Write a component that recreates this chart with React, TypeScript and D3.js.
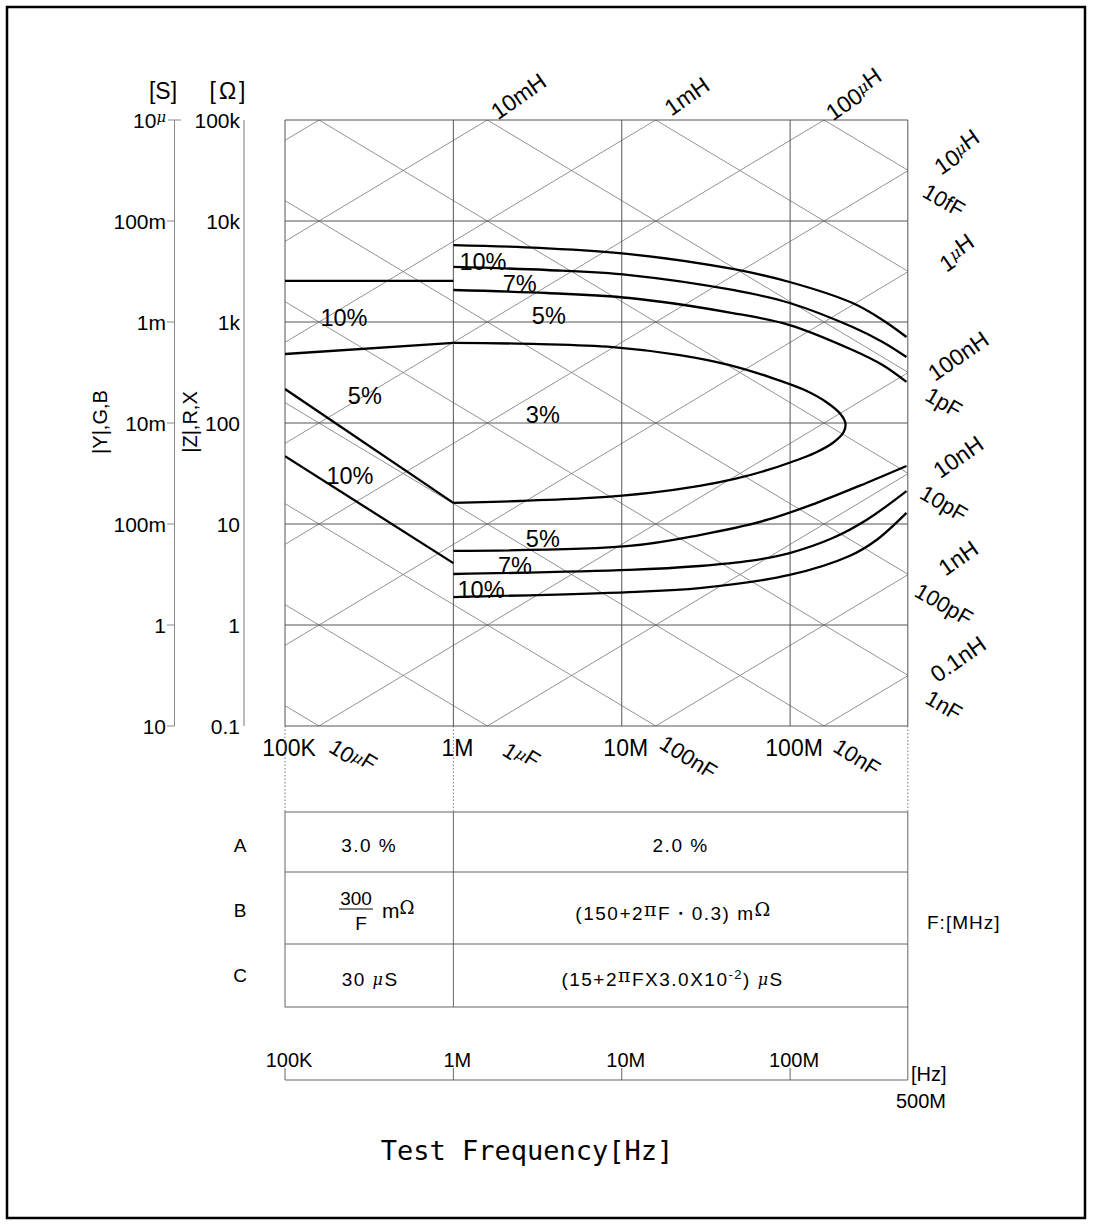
import React from "react";
import * as d3 from "d3";

const W = 1093;
const H = 1226;

// ---- axis data ----
const freqDomain = [1e5, 5e8];
const freqGrid = [1e5, 1e6, 1e7, 1e8, 5e8];
const freqTicks = [1e5, 1e6, 1e7, 1e8];
const freqTickLabels = ["100K", "1M", "10M", "100M"];
const zDomain = [0.1, 1e5];
const zTicks = [1e5, 1e4, 1e3, 1e2, 1e1, 1, 0.1];
const zTickLabels = ["100k", "10k", "1k", "100", "10", "1", "0.1"];
const sTickLabels = ["10μ", "100m", "1m", "10m", "100m", "1", "10"];

// ---- reactance grid (H and F decades) ----
const inductances = [1e-11, 1e-10, 1e-9, 1e-8, 1e-7, 1e-6, 1e-5, 1e-4, 1e-3, 1e-2, 1e-1, 1];
const capacitances = [1e-15, 1e-14, 1e-13, 1e-12, 1e-11, 1e-10, 1e-9, 1e-8, 1e-7, 1e-6, 1e-5, 1e-4];

const topLLabels: [number, string, string][] = [
  [1e-2, "10m", "H"],
  [1e-3, "1m", "H"],
  [1e-4, "100μ", "H"],
];
const rightLLabels: [number, string, string][] = [
  [1e-5, "10μ", "H"],
  [1e-6, "1μ", "H"],
  [1e-7, "100n", "H"],
  [1e-8, "10n", "H"],
  [1e-9, "1n", "H"],
  [1e-10, "0.1n", "H"],
];
const rightCLabels: [number, string][] = [
  [1e-14, "10fF"],
  [1e-12, "1pF"],
  [1e-11, "10pF"],
  [1e-10, "100pF"],
  [1e-9, "1nF"],
];
const bottomCLabels: [number, string, string][] = [
  [1e-5, "10μ", "F"],
  [1e-6, "1μ", "F"],
  [1e-7, "100n", "F"],
  [1e-8, "10n", "F"],
];

// ---- accuracy contours [frequency Hz, impedance ohm] ----
const c10LeftTop = [[1e5, 2550], [1e6, 2550]];
const c5LeftTop = [[1e5, 482], [1e6, 620]];
const c5LeftBottom = [[1e5, 217], [1e6, 16.2]];
const c10LeftBottom = [[1e5, 47], [1e6, 4.1]];
const c3Loop = [
  [1e6, 620], [3.26e6, 605], [8.85e6, 565], [22.1e6, 471], [43.7e6, 375], [75.5e6, 285],
  [122e6, 212], [167e6, 158], [199e6, 123], [213e6, 100], [208e6, 81.5], [179e6, 63.4],
  [140e6, 50.5], [102e6, 41.1], [70.6e6, 33.5], [46.9e6, 27.9], [29e6, 23.8],
  [14.7e6, 20.3], [6.46e6, 18.1], [2.48e6, 16.9], [1e6, 16.2],
];
const c10UpperRight = [
  [1e6, 5780], [3.26e6, 5410], [11.1e6, 4710], [45.6e6, 3350], [99.3e6, 2490],
  [235e6, 1540], [354e6, 1047], [491e6, 710],
];
const c7UpperRight = [
  [1e6, 3508], [3.59e6, 3273], [11.1e6, 2917], [45.6e6, 2075], [99.3e6, 1542],
  [235e6, 891], [354e6, 634], [491e6, 450],
];
const c5UpperRight = [
  [1e6, 2075], [3.59e6, 1936], [11.1e6, 1729], [45.6e6, 1227], [99.3e6, 933],
  [235e6, 528], [354e6, 375], [491e6, 255],
];
const c5LowerRight = [
  [1e6, 5.41], [11.1e6, 6.06], [29e6, 7.78], [72.6e6, 10.96], [144e6, 16.2],
  [284e6, 25.5], [491e6, 37.5],
];
const c7LowerRight = [
  [1e6, 3.2], [11.1e6, 3.51], [29e6, 3.84], [57.5e6, 4.31], [99.3e6, 5.16],
  [179e6, 7.26], [284e6, 10.96], [491e6, 21.2],
];
const c10LowerRight = [
  [1e6, 1.89], [11.1e6, 2.12], [29e6, 2.32], [99.3e6, 3.13], [225e6, 4.82],
  [326e6, 6.95], [491e6, 12.9],
];
const contours = [
  c10LeftTop, c5LeftTop, c5LeftBottom, c10LeftBottom, c3Loop,
  c10UpperRight, c7UpperRight, c5UpperRight, c5LowerRight, c7LowerRight, c10LowerRight,
];

// percent labels: [text, frequency, impedance] (text centre)
const pctLabels: [string, number, number][] = [
  ["10%", 1.5e6, 4000],
  ["7%", 2.48e6, 2430],
  ["5%", 3.69e6, 1170],
  ["10%", 224e3, 1100],
  ["5%", 298e3, 189],
  ["3%", 3.4e6, 120],
  ["10%", 243e3, 30.5],
  ["5%", 3.4e6, 7.26],
  ["7%", 2.32e6, 3.84],
  ["10%", 1.46e6, 2.22],
];

// table
const rowNames = ["A", "B", "C"];
const rowA = ["3.0 %", "2.0 %"];

const SANS = "'Liberation Sans', Arial, sans-serif";
const SERIF = "'DejaVu Serif', 'Liberation Serif', serif";

export default function App() {
  const x = d3.scaleLog().domain(freqDomain).range([285, 907.8]);
  const y = d3.scaleLog().domain(zDomain).range([726, 120]);
  const [x0, x1] = x.range();
  const [yB, yT] = y.range();
  const fMin = freqDomain[0];
  const fMax = freqDomain[1];
  const zMin = zDomain[0];
  const zMax = zDomain[1];
  const TP = 2 * Math.PI;

  const line = d3
    .line<number[]>()
    .x((d) => x(d[0]))
    .y((d) => y(d[1]))
    .curve(d3.curveCatmullRom.alpha(0.5));
  const straight = d3
    .line<number[]>()
    .x((d) => x(d[0]))
    .y((d) => y(d[1]));

  const tableTop = 812;
  const rowH = [872, 944, 1007];
  const rowCy = [845, 910, 975];
  const colMid = x(1e6);
  const c1 = (x0 + colMid) / 2;
  const c2 = (colMid + x1) / 2;
  const axisY = 1080;

  const muSpan = (s: string) => {
    const i = s.indexOf("μ");
    if (i < 0) return s;
    return (
      <>
        {s.slice(0, i)}
        <tspan fontFamily={SERIF} fontStyle="italic" fontSize="0.7em" dy="-0.35em">μ</tspan>
        <tspan dy="0.35em">{s.slice(i + 1)}</tspan>
      </>
    );
  };

  return (
    <svg
      width={W}
      height={H}
      style={{ position: "absolute", left: 0, top: 0, background: "#fff" }}
      fontFamily={SANS}
    >
      <defs>
        <clipPath id="plotClip">
          <rect x={x0} y={yT} width={x1 - x0} height={yB - yT} />
        </clipPath>
      </defs>
      <rect x={0} y={0} width={W} height={H} fill="#fff" />
      <rect x={7} y={7} width={1078} height={1211} fill="none" stroke="#000" strokeWidth={2.5} />

      {/* diagonal reactance lines */}
      <g clipPath="url(#plotClip)" stroke="#777" strokeWidth={0.8} fill="none">
        {inductances.map((L) => (
          <path key={"L" + L} d={straight([[fMin / 10, TP * (fMin / 10) * L], [fMax * 10, TP * fMax * 10 * L]]) || ""} />
        ))}
        {capacitances.map((C) => (
          <path key={"C" + C} d={straight([[fMin / 10, 1 / (TP * (fMin / 10) * C)], [fMax * 10, 1 / (TP * fMax * 10 * C)]]) || ""} />
        ))}
      </g>

      {/* grid */}
      <g stroke="#555" strokeWidth={1}>
        {freqGrid.map((f) => (
          <line key={"v" + f} x1={x(f)} x2={x(f)} y1={yT} y2={yB} />
        ))}
        {zTicks.map((z) => (
          <line key={"h" + z} x1={x0} x2={x1} y1={y(z)} y2={y(z)} />
        ))}
      </g>

      {/* contours */}
      <g clipPath="url(#plotClip)" stroke="#000" strokeWidth={2.3} fill="none">
        {contours.map((c, i) => (
          <path key={i} d={line(c) || ""} />
        ))}
      </g>

      {/* percent labels */}
      <g fontSize={23.5} textAnchor="middle" fill="#000">
        {pctLabels.map(([t, f, z], i) => (
          <text key={i} x={x(f)} y={y(z)} dy="0.36em">{t}</text>
        ))}
      </g>

      {/* reactance labels */}
      <g fontSize={23} textAnchor="middle">
        {topLLabels.map(([L, a, b]) => {
          const cx = x(zMax / (TP * L)) + 31;
          const cy = yT - 24;
          return (
            <text key={a} transform={`translate(${cx},${cy}) rotate(-35)`} dy="0.36em">
              {muSpan(a)}{b}
            </text>
          );
        })}
        {rightLLabels.map(([L, a, b]) => {
          const cy = y(TP * fMax * L) - 17;
          return (
            <text key={a} transform={`translate(958,${cy}) rotate(-35)`} dy="0.36em">
              {muSpan(a)}{b}
            </text>
          );
        })}
      </g>
      <g fontSize={22} textAnchor="middle">
        {rightCLabels.map(([C, t]) => {
          const cy = y(1 / (TP * fMax * C)) + 30;
          return (
            <text key={t} transform={`translate(944,${cy}) rotate(30)`} dy="0.36em">
              {t}
            </text>
          );
        })}
        {bottomCLabels.map(([C, a, b]) => {
          const cx = x(1 / (TP * C * zMin)) + 33;
          return (
            <text key={a} transform={`translate(${cx},757) rotate(32)`} dy="0.36em">
              {muSpan(a)}{b}
            </text>
          );
        })}
      </g>

      {/* x tick labels under plot */}
      <g fontSize={23} textAnchor="middle">
        {freqTicks.map((f, i) => (
          <text key={f} x={x(f) + 4} y={yB + 30}>{freqTickLabels[i]}</text>
        ))}
      </g>

      {/* left axes */}
      <line x1={174.5} x2={174.5} y1={yT} y2={yB} stroke="#888" strokeWidth={1} />
      <line x1={244} x2={244} y1={yT} y2={yB} stroke="#aaa" strokeWidth={1.6} />
      <g stroke="#888" strokeWidth={1}>
        {zTicks.map((z, i) => (
          <line key={z} x1={i === 0 ? 168 : 167} x2={i === 0 ? 181 : 174.5} y1={y(z)} y2={y(z)} />
        ))}
      </g>
      <g fontSize={21} textAnchor="end">
        {zTicks.map((z, i) => (
          <text key={"s" + z} x={166} y={y(z)} dy="0.36em">{muSpan(sTickLabels[i])}</text>
        ))}
        {zTicks.map((z, i) => (
          <text key={"z" + z} x={240} y={y(z)} dy="0.36em">{zTickLabels[i]}</text>
        ))}
      </g>
      <text x={163} y={99} fontSize={23} textAnchor="middle">[S]</text>
      <text x={229} y={99} fontSize={23} textAnchor="middle" letterSpacing={3}>[Ω]</text>
      <text transform="translate(107,422) rotate(-90)" fontSize={20} textAnchor="middle">|Y|,G,B</text>
      <text transform="translate(197,422) rotate(-90)" fontSize={20} textAnchor="middle">|Z|,R,X</text>

      {/* dotted connectors */}
      <g stroke="#777" strokeWidth={1} strokeDasharray="1.5,2">
        {[fMin, 1e6, fMax].map((f) => (
          <line key={f} x1={x(f)} x2={x(f)} y1={yB} y2={tableTop} />
        ))}
      </g>

      {/* table */}
      <g stroke="#666" strokeWidth={1} fill="none">
        <rect x={x0} y={tableTop} width={x1 - x0} height={rowH[2] - tableTop} />
        <line x1={x0} x2={x1} y1={rowH[0]} y2={rowH[0]} />
        <line x1={x0} x2={x1} y1={rowH[1]} y2={rowH[1]} />
        <line x1={colMid} x2={colMid} y1={tableTop} y2={rowH[2]} />
        <line x1={x1} x2={x1} y1={rowH[2]} y2={axisY} />
      </g>
      <g fontSize={19} textAnchor="middle" letterSpacing={1.5}>
        {rowNames.map((r, i) => (
          <text key={r} x={240} y={rowCy[i]} dy="0.36em" letterSpacing={0}>{r}</text>
        ))}
        <text x={c1} y={845} dy="0.36em">{rowA[0]}</text>
        <text x={c2} y={845} dy="0.36em">{rowA[1]}</text>
        {/* row B */}
        <text x={356} y={905} letterSpacing={0}>300</text>
        <line x1={339} x2={373} y1={909} y2={909} stroke="#000" strokeWidth={1} />
        <text x={361} y={930} letterSpacing={0}>F</text>
        <text x={382} y={918} textAnchor="start" fontSize={21} letterSpacing={0}>
          m<tspan fontFamily={SERIF} fontSize={18} dy="-4">Ω</tspan>
        </text>
        <text x={c2 - 7} y={920}>
          (150+2<tspan fontFamily={SERIF} dy="-4">π</tspan>
          <tspan dy="4">F・0.3) m</tspan>
          <tspan fontFamily={SERIF} dy="-4">Ω</tspan>
        </text>
        {/* row C */}
        <text x={c1 + 1} y={986}>
          30 <tspan fontFamily={SERIF} fontStyle="italic" fontSize={16} dy="-1">μ</tspan>
          <tspan dy="1">S</tspan>
        </text>
        <text x={c2 - 8} y={986}>
          (15+2<tspan fontFamily={SERIF} dy="-4">π</tspan>
          <tspan dy="4">FX3.0X10</tspan>
          <tspan fontSize={13} dy="-7">-2</tspan>
          <tspan dy="7">) </tspan>
          <tspan fontFamily={SERIF} fontStyle="italic" fontSize={16} dy="-1">μ</tspan>
          <tspan dy="1">S</tspan>
        </text>
      </g>
      <text x={927} y={929} fontSize={19} letterSpacing={1}>F:[MHz]</text>

      {/* bottom frequency axis */}
      <line x1={x0} x2={x1} y1={axisY} y2={axisY} stroke="#666" strokeWidth={1} />
      <g stroke="#666" strokeWidth={1}>
        {freqTicks.map((f) => (
          <line key={f} x1={x(f)} x2={x(f)} y1={axisY - 12} y2={axisY} />
        ))}
      </g>
      <g fontSize={20} textAnchor="middle">
        {freqTicks.map((f, i) => (
          <text key={f} x={x(f) + 4} y={axisY - 13}>{freqTickLabels[i]}</text>
        ))}
      </g>
      <text x={911} y={1081} fontSize={20}>[Hz]</text>
      <text x={921} y={1108} fontSize={20} textAnchor="middle">500M</text>

      <text
        x={527}
        y={1160}
        fontSize={27}
        textAnchor="middle"
        fontFamily="'DejaVu Sans Mono', monospace"
      >
        Test Frequency[Hz]
      </text>
    </svg>
  );
}
